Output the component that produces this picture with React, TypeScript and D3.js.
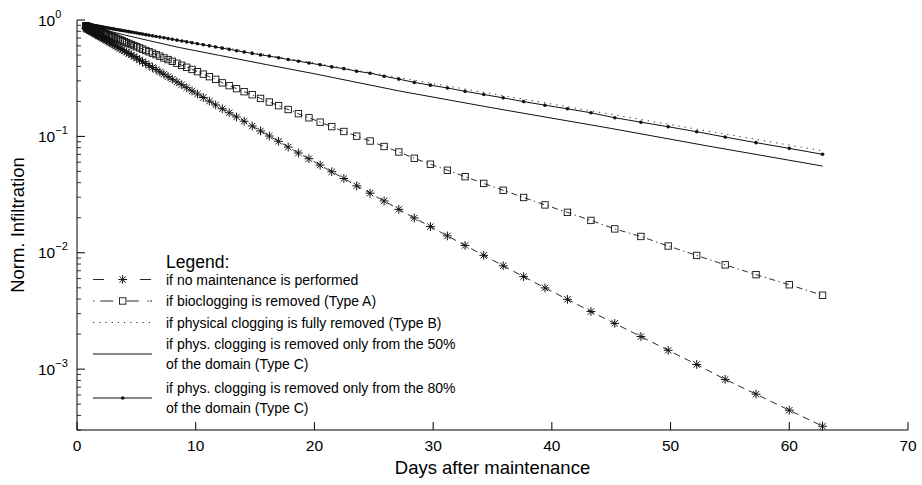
import React from "react";
import * as d3 from "d3";

// Days after maintenance at which the simulated values are plotted (marker positions)
const days = [
  0.74, 0.77, 0.81, 0.85, 0.89, 0.93, 0.98, 1.03, 1.07, 1.13,
  1.18, 1.24, 1.30, 1.36, 1.42, 1.49, 1.56, 1.64, 1.72, 1.80,
  1.88, 1.97, 2.07, 2.17, 2.27, 2.38, 2.49, 2.61, 2.74, 2.87,
  3.01, 3.15, 3.30, 3.46, 3.63, 3.80, 3.98, 4.17, 4.37, 4.58,
  4.80, 5.03, 5.27, 5.52, 5.79, 6.07, 6.36, 6.66, 6.98, 7.32,
  7.67, 8.03, 8.42, 8.82, 9.24, 9.69, 10.15, 10.64, 11.15, 11.68,
  12.24, 12.82, 13.44, 14.08, 14.76, 15.46, 16.20, 16.98, 17.79, 18.65,
  19.54, 20.48, 21.46, 22.48, 23.56, 24.69, 25.87, 27.11, 28.41, 29.77,
  31.20, 32.69, 34.26, 35.90, 37.62, 39.42, 41.31, 43.29, 45.3, 47.5,
  49.8, 52.2, 54.6, 57.2, 60.0, 62.8,
];

// log10 of normalized infiltration
const noMaintenanceLog10 = [
  -0.070, -0.072, -0.074, -0.077, -0.079, -0.081, -0.084, -0.087, -0.090, -0.093,
  -0.096, -0.100, -0.104, -0.107, -0.111, -0.115, -0.119, -0.124, -0.129, -0.134,
  -0.139, -0.144, -0.150, -0.156, -0.162, -0.169, -0.175, -0.183, -0.190, -0.198,
  -0.207, -0.215, -0.224, -0.234, -0.244, -0.254, -0.265, -0.276, -0.289, -0.301,
  -0.314, -0.328, -0.343, -0.358, -0.374, -0.391, -0.408, -0.426, -0.446, -0.466,
  -0.487, -0.509, -0.532, -0.556, -0.582, -0.609, -0.636, -0.666, -0.697, -0.730,
  -0.763, -0.797, -0.833, -0.870, -0.911, -0.953, -0.997, -1.042, -1.092, -1.143,
  -1.192, -1.247, -1.304, -1.362, -1.425, -1.488, -1.555, -1.627, -1.701, -1.775,
  -1.855, -1.937, -2.022, -2.112, -2.205, -2.302, -2.400, -2.505, -2.607, -2.720,
  -2.838, -2.960, -3.088, -3.215, -3.353, -3.490,
];

const typeALog10 = [
  -0.050, -0.051, -0.053, -0.055, -0.056, -0.058, -0.060, -0.062, -0.064, -0.066,
  -0.068, -0.071, -0.073, -0.076, -0.078, -0.081, -0.084, -0.088, -0.091, -0.094,
  -0.098, -0.102, -0.106, -0.110, -0.114, -0.119, -0.123, -0.128, -0.134, -0.139,
  -0.145, -0.151, -0.157, -0.164, -0.171, -0.178, -0.186, -0.194, -0.202, -0.211,
  -0.220, -0.230, -0.240, -0.250, -0.262, -0.273, -0.285, -0.298, -0.311, -0.326,
  -0.340, -0.355, -0.372, -0.389, -0.406, -0.425, -0.444, -0.465, -0.487, -0.510,
  -0.540, -0.564, -0.590, -0.616, -0.642, -0.674, -0.705, -0.736, -0.769, -0.805,
  -0.840, -0.878, -0.916, -0.958, -0.998, -1.040, -1.087, -1.134, -1.188, -1.239,
  -1.291, -1.346, -1.404, -1.463, -1.525, -1.589, -1.653, -1.722, -1.795, -1.860,
  -1.942, -2.023, -2.104, -2.188, -2.275, -2.365,
];

const typeC80Log10 = [
  -0.035, -0.036, -0.036, -0.037, -0.038, -0.038, -0.039, -0.040, -0.041, -0.042,
  -0.043, -0.044, -0.045, -0.046, -0.047, -0.049, -0.050, -0.051, -0.053, -0.054,
  -0.056, -0.057, -0.059, -0.061, -0.063, -0.065, -0.067, -0.069, -0.071, -0.073,
  -0.076, -0.078, -0.081, -0.084, -0.087, -0.090, -0.093, -0.097, -0.100, -0.104,
  -0.108, -0.112, -0.117, -0.121, -0.126, -0.131, -0.136, -0.142, -0.147, -0.153,
  -0.160, -0.166, -0.173, -0.180, -0.188, -0.196, -0.204, -0.213, -0.222, -0.232,
  -0.242, -0.252, -0.264, -0.275, -0.287, -0.300, -0.310, -0.325, -0.339, -0.354,
  -0.369, -0.385, -0.403, -0.418, -0.440, -0.457, -0.483, -0.508, -0.536, -0.560,
  -0.584, -0.613, -0.640, -0.669, -0.701, -0.732, -0.763, -0.797, -0.840, -0.878,
  -0.917, -0.960, -1.006, -1.054, -1.103, -1.154,
];

// Lines without markers
const typeBDays = [0.74, 5, 10, 20, 30, 40, 50, 62.8];
const typeBLog10 = [-0.030, -0.105, -0.193, -0.370, -0.546, -0.722, -0.899, -1.124];

const typeC50Days = [0.74, 2, 4, 6, 8.6, 12, 16, 20, 27.15, 35, 44.9, 53, 62.8];
const typeC50Log10 = [-0.045, -0.078, -0.128, -0.176, -0.236, -0.304, -0.384, -0.462, -0.61, -0.755, -0.93, -1.08, -1.255];

const xTicks = [0, 10, 20, 30, 40, 50, 60, 70];
const yMajorExponents = [0, -1, -2, -3];

const legendTitle = "Legend:";
const legendLabels = [
  ["if no maintenance is performed"],
  ["if bioclogging is removed (Type A)"],
  ["if physical clogging is fully removed (Type B)"],
  ["if phys. clogging is removed only from the 50%", "of the domain (Type C)"],
  ["if phys. clogging is removed only from the 80%", "of the domain (Type C)"],
];

const FONT = "'Liberation Sans', Arial, Helvetica, sans-serif";
const INK = "#111";

function starPath(r: number) {
  const d = r * 0.72;
  return `M${-r},0H${r}M0,${-r}V${r}M${-d},${-d}L${d},${d}M${-d},${d}L${d},${-d}`;
}

export default function App() {
  const W = 922;
  const H = 485;
  const x = d3.scaleLinear().domain([0, 70]).range([77, 908]);
  const y = d3.scaleLog().domain([3e-4, 1]).range([430, 20]);
  const [x0, x1] = x.range();
  const [yb, yt] = y.range();

  const lineFor = (xs: number[], logs: number[]) =>
    d3
      .line<number>()
      .x((_, i) => x(xs[i]))
      .y((d) => y(Math.pow(10, d)))(logs) as string;

  const minorTicks: number[] = [];
  for (let e = -4; e < 0; e++) {
    for (let m = 2; m <= 9; m++) {
      const v = m * Math.pow(10, e);
      if (v >= 3e-4 && v < 1) minorTicks.push(v);
    }
  }

  const legendRows = [[279.5], [301], [322.5], [344, 364], [388, 408]];
  const lx0 = 93;
  const lx1 = 152;
  const lxm = 122.7;
  const textX = 166;

  return (
    <svg
      width={W}
      height={H}
      viewBox={`0 0 ${W} ${H}`}
      style={{ position: "absolute", left: 0, top: 0, background: "#fff" }}
      fontFamily={FONT}
    >
      <rect x={0} y={0} width={W} height={H} fill="#fff" />

      {/* series lines */}
      <path d={lineFor(typeBDays, typeBLog10)} fill="none" stroke={INK} strokeWidth={0.9} strokeDasharray="1.2,5" />
      <path d={lineFor(typeC50Days, typeC50Log10)} fill="none" stroke={INK} strokeWidth={1} />
      <path d={lineFor(days, typeC80Log10)} fill="none" stroke={INK} strokeWidth={1} />
      <path d={lineFor(days, typeALog10)} fill="none" stroke={INK} strokeWidth={0.9} strokeDasharray="6,3.5,1.3,3.5" />
      <path d={lineFor(days, noMaintenanceLog10)} fill="none" stroke={INK} strokeWidth={0.9} strokeDasharray="7,5" />

      {/* markers */}
      {days.map((t, i) => (
        <circle key={`c${i}`} cx={x(t)} cy={y(Math.pow(10, typeC80Log10[i]))} r={1.8} fill={INK} />
      ))}
      {days.map((t, i) => (
        <rect
          key={`s${i}`}
          x={x(t) - 3.2}
          y={y(Math.pow(10, typeALog10[i])) - 3.2}
          width={6.4}
          height={6.4}
          fill="none"
          stroke={INK}
          strokeWidth={0.9}
        />
      ))}
      {days.map((t, i) => (
        <path
          key={`a${i}`}
          d={starPath(4.4)}
          transform={`translate(${x(t)},${y(Math.pow(10, noMaintenanceLog10[i]))})`}
          fill="none"
          stroke={INK}
          strokeWidth={1}
        />
      ))}

      {/* axes */}
      <line x1={x0} x2={x1} y1={yb} y2={yb} stroke="#000" strokeWidth={1} />
      <line x1={x0} x2={x0} y1={yb} y2={yt} stroke="#000" strokeWidth={1} />
      {xTicks.map((t) => (
        <g key={`xt${t}`}>
          <line x1={x(t)} x2={x(t)} y1={yb} y2={yb - 8} stroke="#000" strokeWidth={1} />
          <text x={x(t)} y={yb + 21} textAnchor="middle" fontSize={15.5} fill="#000">
            {t}
          </text>
        </g>
      ))}
      {yMajorExponents.map((e) => {
        const yy = y(Math.pow(10, e));
        return (
          <g key={`yt${e}`}>
            <line x1={x0} x2={x0 + 8} y1={yy} y2={yy} stroke="#000" strokeWidth={1} />
            <text x={38} y={yy + 5.5} fontSize={15.5} fill="#000">
              10
              <tspan dy={-8} fontSize={11}>
                {e === 0 ? "0" : `\u2212${-e}`}
              </tspan>
            </text>
          </g>
        );
      })}
      {minorTicks.map((v, i) => (
        <line key={`ym${i}`} x1={x0} x2={x0 + 4} y1={y(v)} y2={y(v)} stroke="#000" strokeWidth={0.8} />
      ))}

      <text x={(x0 + x1) / 2} y={474} textAnchor="middle" fontSize={18.5} fill="#000">
        Days after maintenance
      </text>
      <text
        transform={`translate(24,${(yb + yt) / 2}) rotate(-90)`}
        textAnchor="middle"
        fontSize={18.5}
        fill="#000"
      >
        Norm. Infiltration
      </text>

      {/* legend */}
      <text x={textX} y={268} fontSize={17.5} fill="#000">
        {legendTitle}
      </text>
      {legendLabels.map((lines, i) =>
        lines.map((ln, j) => (
          <text key={`lt${i}-${j}`} x={textX} y={legendRows[i][j] + 5} fontSize={14} fill="#000">
            {ln}
          </text>
        ))
      )}
      {(() => {
        const cy = legendRows.map((r) => (r[0] + r[r.length - 1]) / 2);
        return (
          <g>
            <line x1={lx0} x2={lx1} y1={cy[0]} y2={cy[0]} stroke={INK} strokeWidth={0.9} strokeDasharray="11,36" />
            <path d={starPath(4.4)} transform={`translate(${lxm},${cy[0]})`} fill="none" stroke={INK} strokeWidth={1} />
            <line
              x1={lx0}
              x2={lx1}
              y1={cy[1]}
              y2={cy[1]}
              stroke={INK}
              strokeWidth={0.9}
              strokeDasharray="1.3,6,13,13.5,12,8.5,1.3"
            />
            <rect x={lxm - 3.2} y={cy[1] - 3.2} width={6.4} height={6.4} fill="#fff" stroke={INK} strokeWidth={0.9} />
            <line x1={lx0} x2={lx1} y1={cy[2]} y2={cy[2]} stroke={INK} strokeWidth={0.9} strokeDasharray="1.2,5" />
            <line x1={lx0} x2={lx1} y1={cy[3]} y2={cy[3]} stroke={INK} strokeWidth={1} />
            <line x1={lx0} x2={lx1} y1={cy[4]} y2={cy[4]} stroke={INK} strokeWidth={1} />
            <circle cx={lxm} cy={cy[4]} r={1.8} fill={INK} />
          </g>
        );
      })()}
    </svg>
  );
}
